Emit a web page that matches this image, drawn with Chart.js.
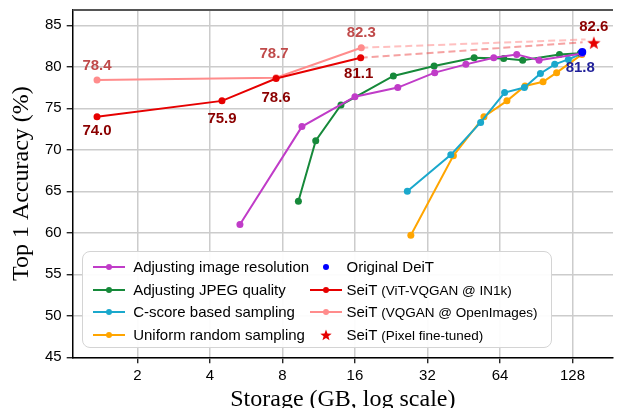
<!DOCTYPE html>
<html><head><meta charset="UTF-8">
<script src="https://cdn.jsdelivr.net/npm/chart.js@4.4.7/dist/chart.umd.min.js"></script>
<style>
*{margin:0;padding:0;box-sizing:border-box}
html,body{width:621px;height:408px;background:#fff;overflow:hidden}
.w{position:relative;width:621px;height:416px}
.lg{position:absolute;left:82px;top:251px;width:470px;height:97px;border:1.5px solid #d4d4d4;border-radius:8px;background:rgba(255,255,255,0.93);font-family:Arial,"Liberation Sans",sans-serif;font-size:15px;color:#000}
.it{position:absolute;height:22px;line-height:22px;white-space:nowrap}
.ln{position:absolute;top:10px;width:32px;height:2px}
.dt{position:absolute;top:8px;width:6px;height:6px;border-radius:50%}
.tx{position:absolute;top:0}
.sm{font-size:13.5px}
</style></head><body>
<div class="w"><canvas id="ch"></canvas><div class="lg" id="lg"></div></div>
<script>
// storage in GB (x) and top-1 accuracy in % (y)
var resX = [5.33, 9.64, 16.0, 24.1, 34.3, 46.2, 60.3, 75.1, 93.0, 140];
var resY = [61.0, 72.8, 76.4, 77.5, 79.3, 80.3, 81.1, 81.5, 80.8, 81.6];
var jpegX = [9.32, 11.0, 14.0, 23.1, 34.1, 50.0, 66.3, 79.5, 113, 138];
var jpegY = [63.8, 71.1, 75.4, 78.9, 80.1, 81.1, 81.0, 80.8, 81.5, 81.65];
var cscoreX = [26.4, 40.0, 53.2, 66.9, 80.8, 94.2, 108, 123, 140];
var cscoreY = [65.0, 69.4, 73.3, 76.9, 77.5, 79.2, 80.3, 80.9, 81.6];
var uniformX = [27.3, 41.0, 54.9, 68.4, 81.3, 96.6, 110, 140];
var uniformY = [59.7, 69.3, 74.0, 75.9, 77.7, 78.2, 79.3, 81.5];
var vitX = [1.36, 4.49, 7.53, 16.9];
var vitY = [74.0, 75.9, 78.6, 81.1];
var oiX = [1.36, 7.53, 17.0];
var oiY = [78.4, 78.7, 82.3];
var deitX = [140.5];
var deitY = [81.8];
var pixelX = [157];
var pixelY = [82.9];
// dashed extensions toward the pixel fine-tuned result
var oiDashX = [17.0, 145];
var oiDashY = [82.3, 83.3];
var vitDashX = [16.9, 141];
var vitDashY = [81.1, 82.95];

var xTicks = [2, 4, 8, 16, 32, 64, 128];
var yTicks = [45, 50, 55, 60, 65, 70, 75, 80, 85];

function pts(xs, ys) {
  return xs.map(function(x, i) { return {x: x, y: ys[i]}; });
}

function starCanvas(r, color) {
  var s = Math.ceil(r * 2 + 2);
  var c = document.createElement('canvas');
  c.width = s; c.height = s;
  var g = c.getContext('2d');
  g.fillStyle = color;
  g.beginPath();
  for (var i = 0; i < 10; i++) {
    var rr = i % 2 ? r * 0.42 : r;
    var a = -Math.PI / 2 + i * Math.PI / 5;
    g.lineTo(s / 2 + rr * Math.cos(a), s / 2 + rr * Math.sin(a) + r * 0.08);
  }
  g.closePath();
  g.fill();
  return c;
}

var C = {
  res: '#c03cc8', jpeg: '#16893a', cscore: '#1aa8cc', uniform: '#ffa500',
  vit: '#e60000', oi: '#ff8c8c', deit: '#0000ff', pixel: '#e60000'
};

var starImg = starCanvas(7, C.pixel);

function line(label, xs, ys, color) {
  return {label: label, data: pts(xs, ys), showLine: true, borderColor: color, backgroundColor: color,
    borderWidth: 2, pointRadius: 3.5, pointBorderWidth: 0, pointHoverRadius: 3.5};
}

var datasets = [
  {label: 'SeiT (Pixel fine-tuned)', data: pts(pixelX, pixelY), pointStyle: starImg, pointRadius: 7, showLine: false},
  {label: 'Original DeiT', data: pts(deitX, deitY), backgroundColor: C.deit, borderColor: C.deit, pointRadius: 4, pointBorderWidth: 0, showLine: false},
  line('SeiT (ViT-VQGAN @ IN1k)', vitX, vitY, C.vit),
  line('SeiT (VQGAN @ OpenImages)', oiX, oiY, C.oi),
  line('Adjusting image resolution', resX, resY, C.res),
  line('Adjusting JPEG quality', jpegX, jpegY, C.jpeg),
  line('C-score based sampling', cscoreX, cscoreY, C.cscore),
  line('Uniform random sampling', uniformX, uniformY, C.uniform),
  {label: '', data: pts(oiDashX, oiDashY), showLine: true, borderColor: 'rgba(255,140,140,0.55)', borderWidth: 2, borderDash: [7, 4], pointRadius: 0},
  {label: '', data: pts(vitDashX, vitDashY), showLine: true, borderColor: 'rgba(235,70,70,0.5)', borderWidth: 2, borderDash: [7, 4], pointRadius: 0}
];

// value annotations: dataset index, point index, text, colour, pixel offset
var valueLabels = [
  [3, 0, '78.4', '#c04a4a', 0, -14],
  [3, 1, '78.7', '#c04a4a', -2, -24],
  [3, 2, '82.3', '#c04a4a', 0, -15],
  [2, 0, '74.0', '#8b0000', 0, 14],
  [2, 1, '75.9', '#8b0000', 0, 18],
  [2, 2, '78.6', '#8b0000', 0, 19],
  [2, 3, '81.1', '#8b0000', -2, 16],
  [0, 0, '82.6', '#8b0000', 0, -16],
  [1, 0, '81.8', '#1f1f99', -2, 16]
];

var framePlugin = {
  id: 'frame',
  afterDraw: function(chart) {
    var a = chart.chartArea, g = chart.ctx;
    g.save();
    g.strokeStyle = '#555';
    g.lineWidth = 2;
    g.beginPath();
    g.moveTo(a.left, a.top);
    g.lineTo(a.right, a.top);
    g.stroke();
    g.restore();
  }
};

var valuePlugin = {
  id: 'vals',
  afterDatasetsDraw: function(chart) {
    var g = chart.ctx;
    g.save();
    g.font = 'bold 15px Arial, "Liberation Sans", sans-serif';
    g.textAlign = 'center';
    g.textBaseline = 'middle';
    valueLabels.forEach(function(l) {
      var el = chart.getDatasetMeta(l[0]).data[l[1]];
      g.fillStyle = l[3];
      g.fillText(l[2], el.x + l[4], el.y + l[5]);
    });
    g.restore();
  }
};

var tickFont = {family: 'Arial, "Liberation Sans", sans-serif', size: 15};
var titleFont = {family: '"Liberation Serif", "Times New Roman", serif', size: 24};

new Chart(document.getElementById('ch'), {
  type: 'scatter',
  data: {datasets: datasets},
  plugins: [framePlugin, valuePlugin],
  options: {
    responsive: true, maintainAspectRatio: false, animation: false,
    layout: {padding: {top: 10, left: 0, right: 0, bottom: 0}},
    plugins: {legend: {display: false}, tooltip: {enabled: false}},
    scales: {
      x: {
        type: 'logarithmic', min: 1.078, max: 188.5,
        afterBuildTicks: function(s) { s.ticks = xTicks.map(function(v) { return {value: v}; }); },
        afterFit: function(s) { s.height = 416 - 357.3; s.paddingLeft = 0; s.paddingRight = 0; },
        ticks: {color: '#000', font: tickFont, padding: 4, autoSkip: false, maxRotation: 0,
          callback: function(v) { return String(v); }},
        grid: {color: '#cccccc', lineWidth: 1.5, tickColor: '#000', tickLength: 6, tickWidth: 1.2},
        border: {color: '#000', width: 1.5},
        title: {display: true, text: 'Storage (GB, log scale)', color: '#000', font: titleFont, padding: {top: 0, bottom: 2}}
      },
      y: {
        min: 45, max: 86.85,
        afterBuildTicks: function(s) { s.ticks = yTicks.map(function(v) { return {value: v}; }); },
        afterFit: function(s) { s.width = 72.7; s.paddingTop = 0; s.paddingBottom = 0; },
        ticks: {color: '#000', font: tickFont, padding: 5},
        grid: {color: '#cccccc', lineWidth: 1.5, tickColor: '#000', tickLength: 6, tickWidth: 1.2},
        border: {color: '#000', width: 1.5},
        title: {display: true, text: 'Top 1 Accuracy (%)', color: '#000', font: titleFont, padding: {top: 7, bottom: 0}}
      }
    }
  }
});

// legend built from the same series, two columns like the figure
var legendItems = [
  {col: 0, row: 0, name: 'Adjusting image resolution', color: C.res, kind: 'line'},
  {col: 0, row: 1, name: 'Adjusting JPEG quality', color: C.jpeg, kind: 'line'},
  {col: 0, row: 2, name: 'C-score based sampling', color: C.cscore, kind: 'line'},
  {col: 0, row: 3, name: 'Uniform random sampling', color: C.uniform, kind: 'line'},
  {col: 1, row: 0, name: 'Original DeiT', color: C.deit, kind: 'dot'},
  {col: 1, row: 1, name: 'SeiT', note: '(ViT-VQGAN @ IN1k)', color: C.vit, kind: 'line'},
  {col: 1, row: 2, name: 'SeiT', note: '(VQGAN @ OpenImages)', color: C.oi, kind: 'line'},
  {col: 1, row: 3, name: 'SeiT', note: '(Pixel fine-tuned)', color: C.pixel, kind: 'star'}
];
var lg = document.getElementById('lg');
var colHandle = [9.5, 227], colText = [50.2, 263.5];
legendItems.forEach(function(it) {
  var d = document.createElement('div');
  d.className = 'it';
  d.style.left = colHandle[it.col] + 'px';
  d.style.top = (3.8 + it.row * 22.8) + 'px';
  d.style.width = '240px';
  var h = '';
  if (it.kind === 'line') {
    h += '<div class="ln" style="left:0;background:' + it.color + '"></div>';
    h += '<div class="dt" style="left:13px;background:' + it.color + '"></div>';
  } else if (it.kind === 'dot') {
    h += '<div class="dt" style="left:13px;background:' + it.color + '"></div>';
  }
  var off = colText[it.col] - colHandle[it.col];
  h += '<div class="tx" style="left:' + off + 'px">' + it.name + (it.note ? ' <span class="sm">' + it.note + '</span>' : '') + '</div>';
  d.innerHTML = h;
  if (it.kind === 'star') {
    var sc = starCanvas(6, it.color);
    sc.style.position = 'absolute';
    sc.style.left = (16 - sc.width / 2) + 'px';
    sc.style.top = (11 - sc.height / 2) + 'px';
    d.appendChild(sc);
  }
  lg.appendChild(d);
});
</script></body></html>
